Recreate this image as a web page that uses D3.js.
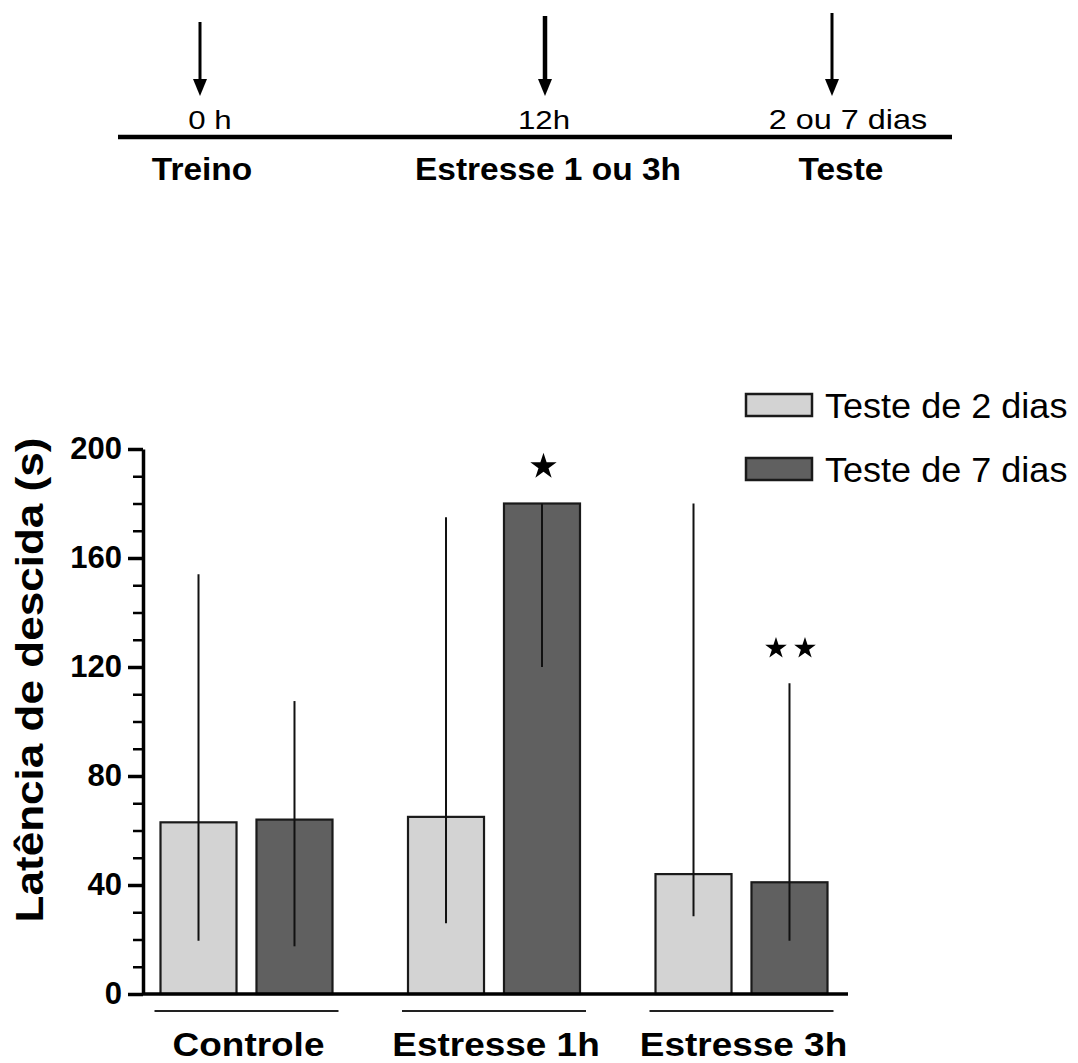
<!DOCTYPE html>
<html>
<head>
  <title>Latência de descida</title>
  <script src="https://cdnjs.cloudflare.com/ajax/libs/d3/7.8.5/d3.min.js"></script>
  <style>
    body {
        margin: 0;
        background: #ffffff;
        font-family: "Liberation Sans", Arial, sans-serif;
    }
    svg {
        display: block;
    }
  </style>
</head>
<body>
    <div id="chart"></div>
    <script>
    // Data
    var timePoints = ['0 h', '12h', '2 ou 7 dias'];
    var timeEvents = ['Treino', 'Estresse 1 ou 3h', 'Teste'];

    var categories = ['Controle', 'Estresse 1h', 'Estresse 3h'];
    var series = ['Teste de 2 dias', 'Teste de 7 dias'];
    var means2 = [63, 65, 44];
    var means7 = [64, 180, 41];
    var low2 = [19.5, 26, 28.5];
    var high2 = [154, 175, 180];
    var low7 = [17.5, 120, 19.5];
    var high7 = [107.5, 180, 114];
    var stars7 = [0, 1, 2];   // number of stars above the 7-day bar
    var yTicks = [0, 40, 80, 120, 160, 200];

    var colors = ['#d3d3d3', '#606060'];

    var width = 1078,
        height = 1063;

    var svg = d3.select('#chart').append('svg')
        .attr('width', width)
        .attr('height', height);

    // text stretched horizontally, as in the original figure
    function stretchText(g, str, x, y, size, sx, bold, anchor) {
        return g.append('text')
            .attr('transform', 'translate(' + x + ',' + y + ') scale(' + sx + ',1)')
            .attr('text-anchor', anchor || 'middle')
            .style('font-size', size + 'px')
            .style('font-weight', bold ? 'bold' : 'normal')
            .style('fill', '#000')
            .text(str);
    }

    //----------------------------------------
    // Timeline
    var tl = svg.append('g');
    var tX = d3.scaleOrdinal().domain(timePoints).range([200, 545, 832]);
    var tTop = d3.scaleOrdinal().domain(timePoints).range([22, 16, 13]);
    var tW = d3.scaleOrdinal().domain(timePoints).range([3, 4.5, 3]);
    var tLabelX = d3.scaleOrdinal().domain(timePoints).range([210, 544, 848]);
    var tEventX = d3.scaleOrdinal().domain(timePoints).range([202, 548, 841]);

    tl.append('line')
        .attr('x1', 118).attr('x2', 952)
        .attr('y1', 137).attr('y2', 137)
        .style('stroke', '#000')
        .style('stroke-width', 4.5);

    timePoints.forEach(function(p, i) {
        var x = tX(p), tip = 96;
        tl.append('line')
            .attr('x1', x).attr('x2', x)
            .attr('y1', tTop(p)).attr('y2', tip - 12)
            .style('stroke', '#000')
            .style('stroke-width', tW(p));
        tl.append('path')
            .attr('d', 'M' + (x - 7) + ',' + (tip - 17) + 'L' + (x + 7) + ',' + (tip - 17) + 'L' + x + ',' + tip + 'Z')
            .style('fill', '#000');
        stretchText(tl, p, tLabelX(p), 129, i === 2 ? 27 : 26, 1.2, false);
        stretchText(tl, timeEvents[i], tEventX(p), 180, 31, 1.08, true);
    });

    //----------------------------------------
    // Bar chart
    var y = d3.scaleLinear().domain([0, 200]).range([994, 449]);
    var x0 = d3.scalePoint().domain(categories).range([246.5, 741.5]);
    var x1 = d3.scaleBand().domain(series).range([-86, 86]).paddingInner(0.208);

    var rows = categories.map(function(c, i) {
        return {
            cat: c,
            stars: stars7[i],
            bars: [
                {s: series[0], v: means2[i], lo: low2[i], hi: high2[i]},
                {s: series[1], v: means7[i], lo: low7[i], hi: high7[i]}
            ]
        };
    });

    var groups = svg.selectAll('g.grp')
        .data(rows)
        .enter()
        .append('g')
        .attr('class', 'grp')
        .attr('transform', function(d) { return 'translate(' + x0(d.cat) + ',0)'; });

    groups.selectAll('rect')
        .data(function(d) { return d.bars; })
        .enter()
        .append('rect')
        .attr('x', function(d) { return x1(d.s); })
        .attr('width', x1.bandwidth())
        .attr('y', function(d) { return y(d.v); })
        .attr('height', function(d) { return y(0) - y(d.v); })
        .style('fill', function(d, i) { return colors[i]; })
        .style('stroke', '#1a1a1a')
        .style('stroke-width', 2.2);

    // error lines (single vertical line per bar)
    groups.selectAll('line.err')
        .data(function(d) { return d.bars; })
        .enter()
        .append('line')
        .attr('class', 'err')
        .attr('x1', function(d) { return x1(d.s) + x1.bandwidth() / 2; })
        .attr('x2', function(d) { return x1(d.s) + x1.bandwidth() / 2; })
        .attr('y1', function(d) { return y(d.lo); })
        .attr('y2', function(d) { return y(d.hi); })
        .style('stroke', '#111')
        .style('stroke-width', 2);

    // significance stars
    var star1 = d3.symbol().type(d3.symbolStar).size(215);
    var star2 = d3.symbol().type(d3.symbolStar).size(145);
    groups.each(function(d, i) {
        var g = d3.select(this);
        var cx = x1(series[1]) + x1.bandwidth() / 2;
        var cy = y(high7[i]) - 37;
        for (var k = 0; k < d.stars; k++) {
            var dx = d.stars === 1 ? 1.5 : (k - 0.5) * 29 + 1;
            g.append('path')
                .attr('d', d.stars === 1 ? star1() : star2())
                .attr('transform', 'translate(' + (cx + dx) + ',' + (cy + (d.stars === 1 ? 0 : 2)) + ')')
                .style('fill', '#000');
        }
    });

    // group underlines and labels
    groups.append('line')
        .attr('x1', -92).attr('x2', 92)
        .attr('y1', 1011).attr('y2', 1011)
        .style('stroke', '#222')
        .style('stroke-width', 2.2);

    groups.each(function(d) {
        stretchText(d3.select(this), d.cat, 2, 1056, 33, 1.12, true);
    });

    // x axis baseline
    svg.append('line')
        .attr('x1', 143).attr('x2', 848)
        .attr('y1', y(0)).attr('y2', y(0))
        .style('stroke', '#000')
        .style('stroke-width', 3.5);

    // y axis: minor ticks
    svg.append('g')
        .attr('transform', 'translate(143,0)')
        .call(d3.axisLeft(y).tickValues(d3.range(0, 201, 10)).tickSize(10).tickFormat(''))
        .call(function(g) {
            g.select('.domain').remove();
            g.selectAll('.tick line').style('stroke', '#000').style('stroke-width', 2.5);
        });

    // y axis: major ticks
    svg.append('g')
        .attr('transform', 'translate(143,0)')
        .call(d3.axisLeft(y).tickValues(yTicks).tickSize(15).tickSizeOuter(0).tickPadding(6))
        .call(function(g) {
            g.select('.domain').style('stroke', '#000').style('stroke-width', 3.5);
            g.selectAll('.tick line').style('stroke', '#000').style('stroke-width', 3.5);
            g.selectAll('.tick text')
                .style('font-family', '"Liberation Sans", Arial, sans-serif')
                .style('font-size', '31px')
                .style('font-weight', 'bold')
                .style('fill', '#000');
        });

    // y axis title
    svg.append('text')
        .attr('transform', 'translate(43,680) rotate(-90) scale(1.13,1)')
        .attr('text-anchor', 'middle')
        .style('font-size', '39px')
        .style('font-weight', 'bold')
        .text('Latência de descida (s)');

    //----------------------------------------
    // Legend
    var legend = svg.selectAll('g.legend')
        .data(series)
        .enter()
        .append('g')
        .attr('class', 'legend')
        .attr('transform', function(d, i) { return 'translate(746,' + (394 + i * 64) + ')'; });

    legend.append('rect')
        .attr('width', 66)
        .attr('height', 22)
        .style('fill', function(d, i) { return colors[i]; })
        .style('stroke', '#1a1a1a')
        .style('stroke-width', 2.5);

    legend.each(function(d) {
        stretchText(d3.select(this), d, 79, 24, 35, 1.03, false, 'start');
    });
    </script>
</body>
</html>
